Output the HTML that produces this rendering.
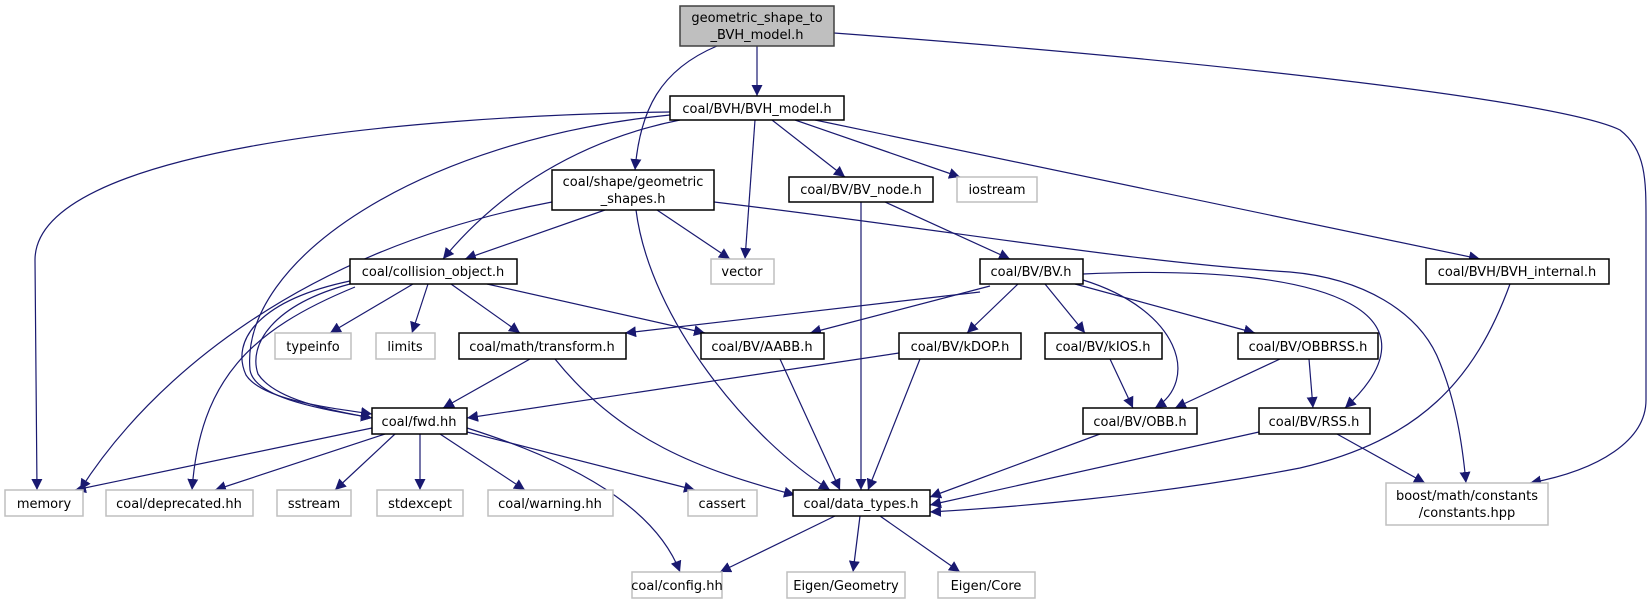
<!DOCTYPE html>
<html><head><meta charset="utf-8"><style>html,body{margin:0;padding:0;background:#fff}svg{display:block}</style></head>
<body>
<svg width="1652" height="604" viewBox="0 0 1652 604" xmlns="http://www.w3.org/2000/svg" font-family="DejaVu Sans, Liberation Sans, sans-serif" font-size="13">
<defs><marker id="a" viewBox="0 0 10 10" refX="10" refY="5" markerWidth="11" markerHeight="11" markerUnits="userSpaceOnUse" orient="auto"><path d="M0,0 L10,5 L0,10 z" fill="#191970"/></marker></defs>
<g fill="none" stroke="#191970" stroke-width="1.2" marker-end="url(#a)">
<path d="M757,46 L757,96"/>
<path d="M717,46 C660,70 640,110 635,170"/>
<path d="M834,33 C1200,60 1560,100 1620,130 C1646,150 1646,180 1646,220 L1646,400 C1646,440 1600,470 1530,483"/>
<path d="M670,112 C400,116 35,150 35,260 L37,490"/>
<path d="M670,115 C420,140 240,260 250,370 C255,400 330,410 372,418"/>
<path d="M680,120 C580,140 500,190 443,259"/>
<path d="M755,120 L745,259"/>
<path d="M772,120 L845,177"/>
<path d="M795,120 L960,177"/>
<path d="M815,120 L1480,259"/>
<path d="M605,210 L465,259"/>
<path d="M552,202 C300,250 150,380 80,490"/>
<path d="M657,210 L730,259"/>
<path d="M636,210 C650,320 750,440 830,490"/>
<path d="M714,202 C950,230 1130,262 1290,272 C1360,278 1420,310 1440,363 C1455,400 1462,440 1466,483"/>
<path d="M861,202 L861,490"/>
<path d="M885,202 L1010,259"/>
<path d="M413,284 L330,333"/>
<path d="M428,284 L412,333"/>
<path d="M451,284 L520,333"/>
<path d="M487,284 L705,333"/>
<path d="M350,281 C260,300 230,340 246,375 C262,400 330,408 372,414"/>
<path d="M350,284 C272,305 248,345 258,374 C275,400 330,410 372,418"/>
<path d="M355,287 C250,330 200,380 192,490"/>
<path d="M980,292 L625,333"/>
<path d="M990,286 L810,333"/>
<path d="M1018,284 L967,333"/>
<path d="M1045,284 L1085,333"/>
<path d="M1075,284 L1255,333"/>
<path d="M1083,280 C1180,310 1200,380 1155,408"/>
<path d="M1083,274 C1350,262 1440,320 1345,408"/>
<path d="M530,359 L443,408"/>
<path d="M555,359 C620,440 700,470 795,495"/>
<path d="M780,359 L840,490"/>
<path d="M899,353 L467,418"/>
<path d="M920,359 L868,490"/>
<path d="M1110,359 L1133,408"/>
<path d="M1280,359 L1175,408"/>
<path d="M1309,359 L1313,408"/>
<path d="M1100,434 L930,497"/>
<path d="M1259,432 L930,505"/>
<path d="M1337,434 L1425,483"/>
<path d="M1510,284 C1475,380 1420,440 1300,468 C1150,497 1000,508 930,512"/>
<path d="M372,428 L75,490"/>
<path d="M385,434 L215,490"/>
<path d="M395,434 L335,490"/>
<path d="M420,434 L420,490"/>
<path d="M440,434 L525,490"/>
<path d="M467,432 L695,490"/>
<path d="M467,428 C600,470 660,520 680,572"/>
<path d="M835,516 L720,572"/>
<path d="M860,516 L853,572"/>
<path d="M880,516 L960,572"/>
</g>
<g stroke-width="1.5">
<rect x="680" y="6" width="154" height="40" fill="#bfbfbf" stroke="#404040"/>
<g fill="#fff" stroke="#000">
<rect x="670" y="96" width="174" height="24"/>
<rect x="552" y="170" width="162" height="40"/>
<rect x="789" y="177" width="144" height="25"/>
<rect x="350" y="259" width="167" height="25"/>
<rect x="980" y="259" width="103" height="25"/>
<rect x="1426" y="259" width="183" height="25"/>
<rect x="459" y="333" width="167" height="26"/>
<rect x="701" y="333" width="123" height="26"/>
<rect x="899" y="333" width="122" height="26"/>
<rect x="1045" y="333" width="117" height="26"/>
<rect x="1238" y="333" width="140" height="26"/>
<rect x="372" y="408" width="95" height="26"/>
<rect x="1083" y="408" width="114" height="26"/>
<rect x="1259" y="408" width="111" height="26"/>
<rect x="793" y="490" width="137" height="26"/>
</g>
<g fill="#fff" stroke="#bfbfbf">
<rect x="957" y="177" width="80" height="25"/>
<rect x="711" y="259" width="63" height="25"/>
<rect x="275" y="333" width="76" height="26"/>
<rect x="376" y="333" width="59" height="26"/>
<rect x="5" y="490" width="78" height="26"/>
<rect x="106" y="490" width="147" height="26"/>
<rect x="277" y="490" width="74" height="26"/>
<rect x="377" y="490" width="86" height="26"/>
<rect x="488" y="490" width="125" height="26"/>
<rect x="688" y="490" width="69" height="26"/>
<rect x="1386" y="483" width="162" height="42"/>
<rect x="632" y="572" width="90" height="26"/>
<rect x="787" y="572" width="118" height="26"/>
<rect x="938" y="572" width="97" height="26"/>
</g>
</g>
<g fill="#000" text-anchor="middle">
<text x="757" y="22">geometric_shape_to</text><text x="757" y="39">_BVH_model.h</text>
<text x="757" y="113">coal/BVH/BVH_model.h</text>
<text x="633" y="186">coal/shape/geometric</text><text x="633" y="203">_shapes.h</text>
<text x="861" y="194">coal/BV/BV_node.h</text>
<text x="997" y="194">iostream</text>
<text x="742" y="276">vector</text>
<text x="433" y="276">coal/collision_object.h</text>
<text x="1031" y="276">coal/BV/BV.h</text>
<text x="1517" y="276">coal/BVH/BVH_internal.h</text>
<text x="313" y="351">typeinfo</text>
<text x="405" y="351">limits</text>
<text x="542" y="351">coal/math/transform.h</text>
<text x="762" y="351">coal/BV/AABB.h</text>
<text x="960" y="351">coal/BV/kDOP.h</text>
<text x="1103" y="351">coal/BV/kIOS.h</text>
<text x="1308" y="351">coal/BV/OBBRSS.h</text>
<text x="419" y="426">coal/fwd.hh</text>
<text x="1140" y="426">coal/BV/OBB.h</text>
<text x="1314" y="426">coal/BV/RSS.h</text>
<text x="44" y="508">memory</text>
<text x="179" y="508">coal/deprecated.hh</text>
<text x="314" y="508">sstream</text>
<text x="420" y="508">stdexcept</text>
<text x="550" y="508">coal/warning.hh</text>
<text x="722" y="508">cassert</text>
<text x="861" y="508">coal/data_types.h</text>
<text x="1467" y="500">boost/math/constants</text><text x="1467" y="517">/constants.hpp</text>
<text x="677" y="590">coal/config.hh</text>
<text x="846" y="590">Eigen/Geometry</text>
<text x="986" y="590">Eigen/Core</text>
</g>
</svg>
</body></html>
